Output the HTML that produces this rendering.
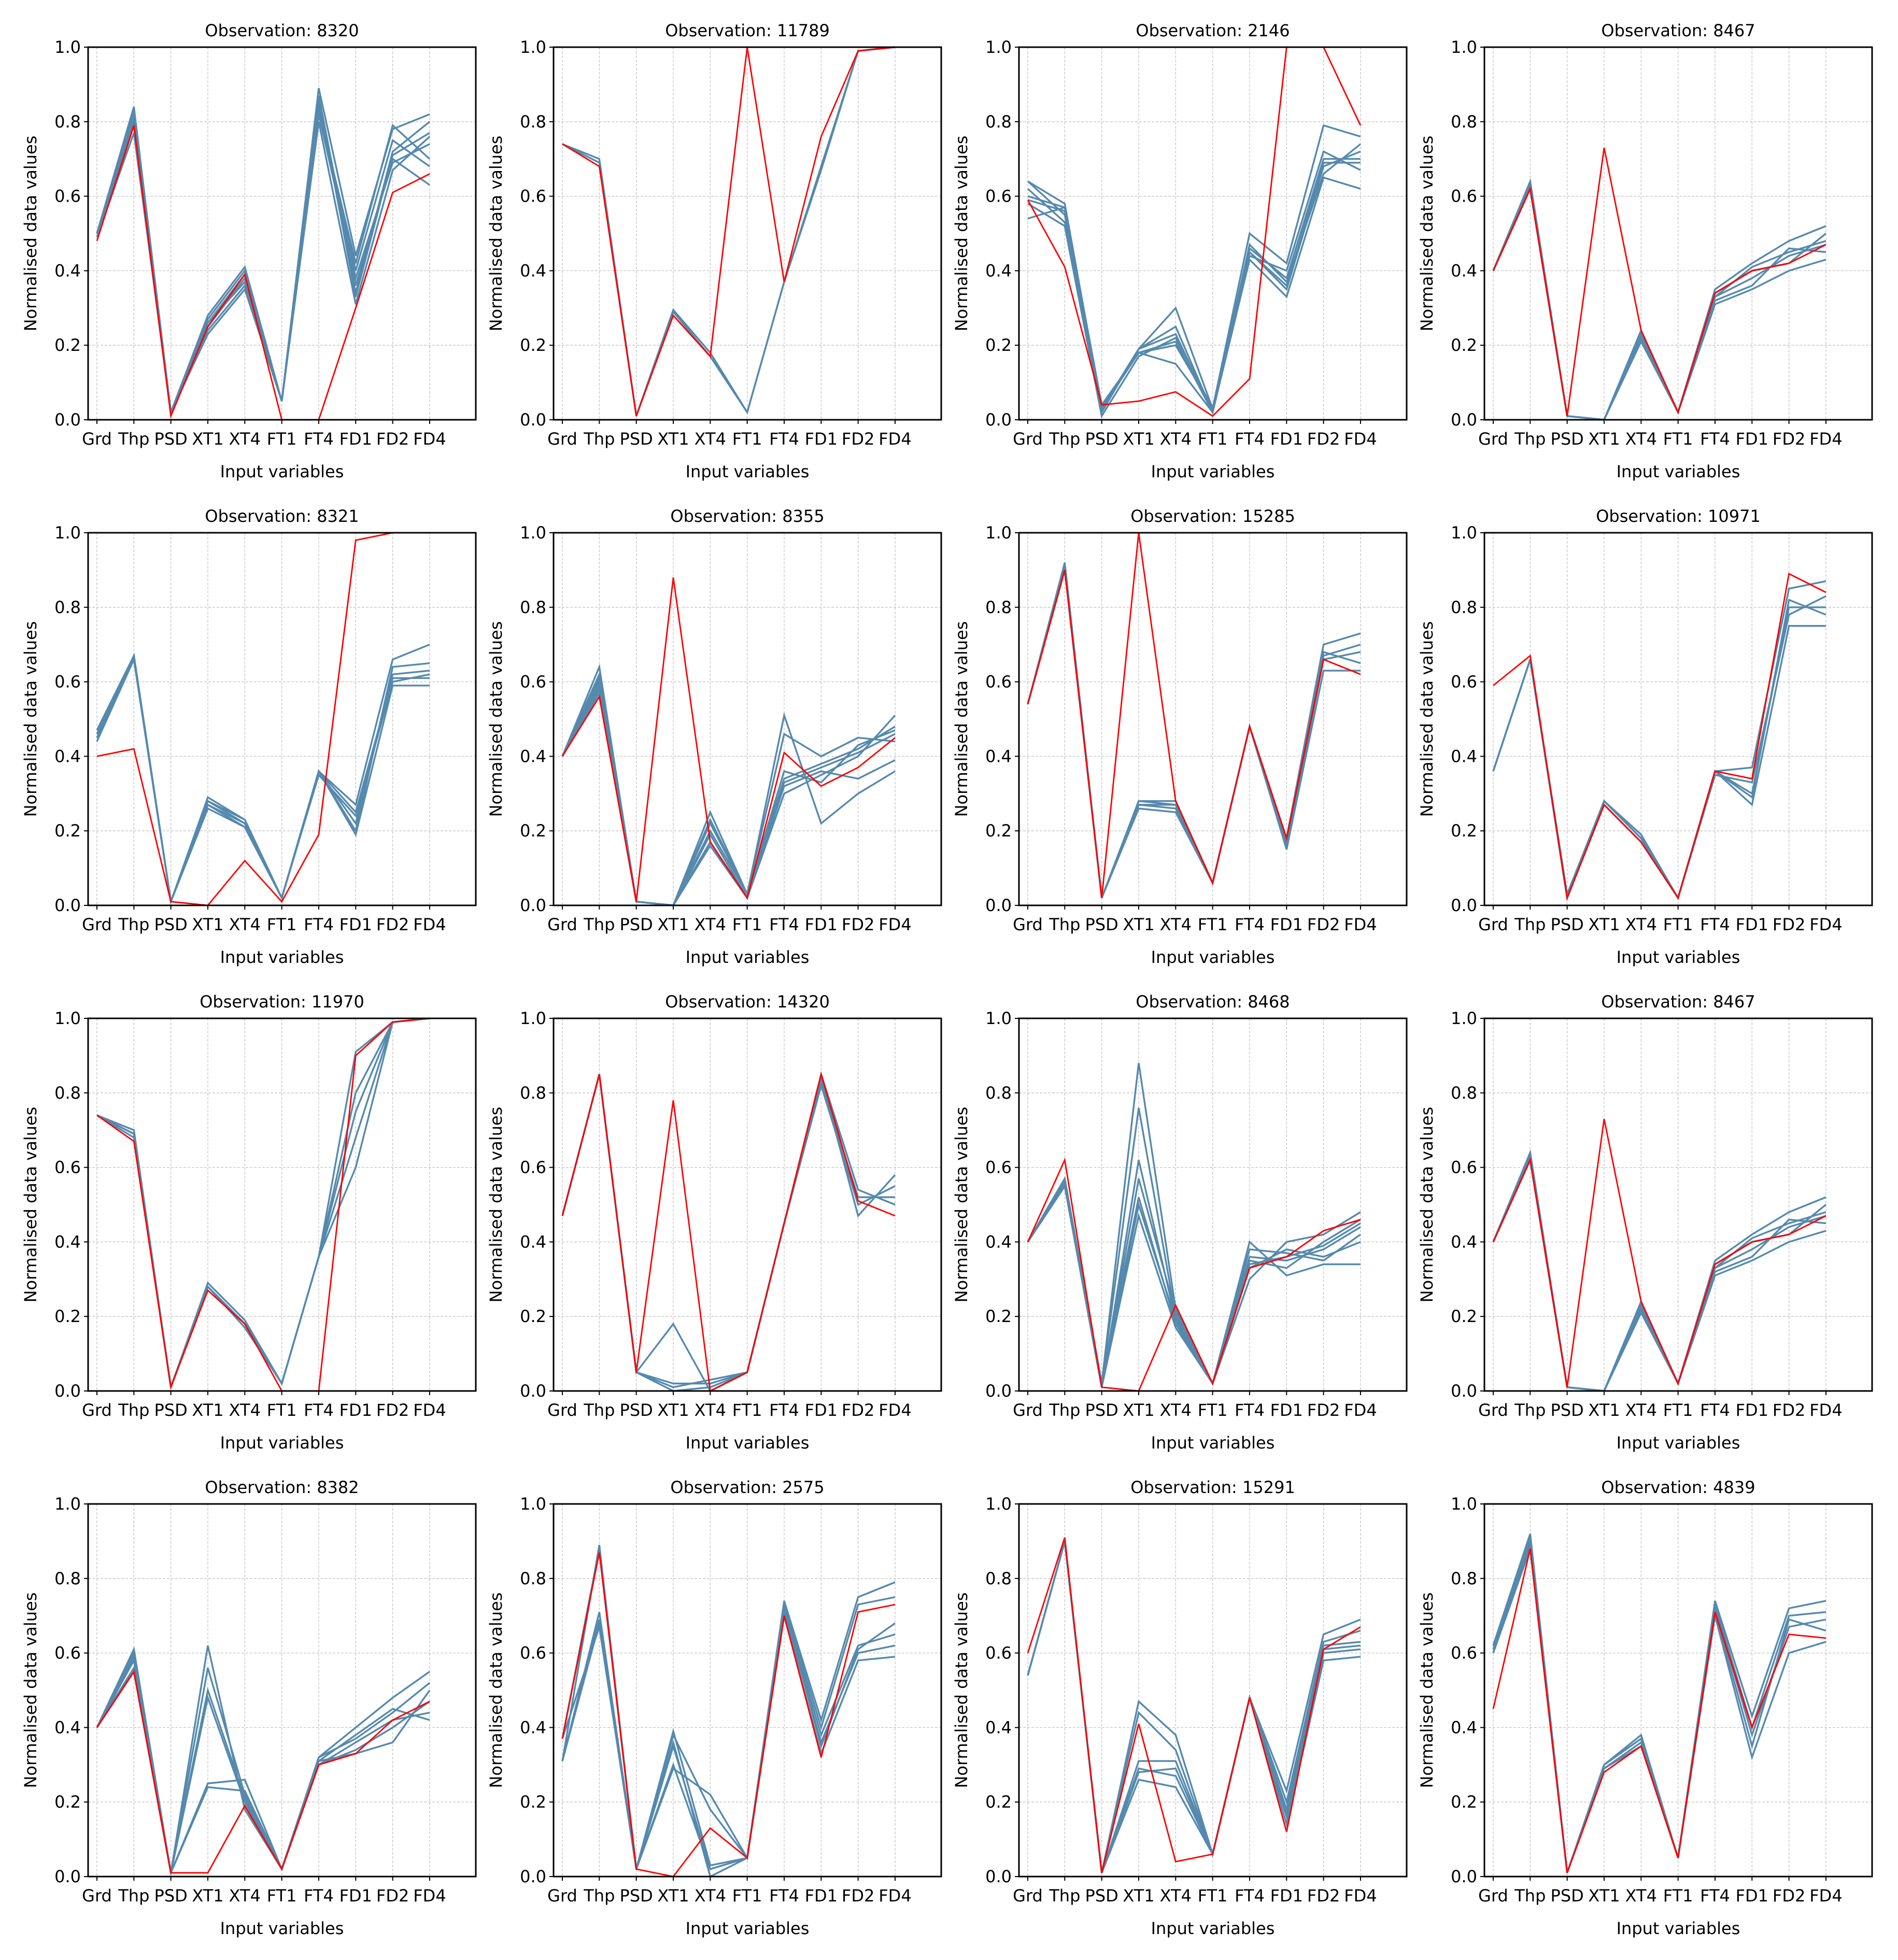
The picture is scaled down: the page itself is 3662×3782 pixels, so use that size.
<!DOCTYPE html>
<html><head><meta charset="utf-8"><style>
html,body{margin:0;padding:0;background:#fff}
svg{display:block}
text{font-family:"DejaVu Sans","Liberation Sans",sans-serif;fill:#000}
</style></head><body>
<svg id="fig" xmlns="http://www.w3.org/2000/svg" width="3662" height="3782" viewBox="0 0 3662 3782"></svg>
<script>
const categories=["Grd","Thp","PSD","XT1","XT4","FT1","FT4","FD1","FD2","FD4"];
const yTicks=["0.0","0.2","0.4","0.6","0.8","1.0"];
const yTickValues=[0,0.2,0.4,0.6,0.8,1.0];
const observations=["8320","11789","2146","8467","8321","8355","15285","10971","11970","14320","8468","8467","8382","2575","15291","4839"];
const redSeries=[
[0.48,0.79,0.01,0.25,0.39,0.0,0.0,0.30,0.61,0.66],
[0.74,0.68,0.01,0.28,0.17,1.0,0.37,0.76,0.99,1.0],
[0.59,0.41,0.04,0.05,0.075,0.01,0.11,1.0,1.0,0.79],
[0.40,0.62,0.01,0.73,0.24,0.02,0.34,0.40,0.42,0.47],
[0.40,0.42,0.01,0.0,0.12,0.01,0.19,0.98,1.0,1.0],
[0.40,0.56,0.01,0.88,0.17,0.02,0.41,0.32,0.37,0.45],
[0.54,0.90,0.02,1.0,0.28,0.06,0.48,0.18,0.66,0.62],
[0.59,0.67,0.02,0.27,0.17,0.02,0.36,0.34,0.89,0.84],
[0.74,0.67,0.01,0.27,0.18,0.0,0.0,0.90,0.99,1.0],
[0.47,0.85,0.05,0.78,0.0,0.05,0.45,0.85,0.51,0.47],
[0.40,0.62,0.01,0.0,0.23,0.02,0.33,0.36,0.43,0.46],
[0.40,0.62,0.01,0.73,0.24,0.02,0.34,0.40,0.42,0.47],
[0.40,0.55,0.01,0.01,0.19,0.02,0.30,0.33,0.42,0.47],
[0.37,0.87,0.02,0.0,0.13,0.05,0.70,0.32,0.71,0.73],
[0.60,0.91,0.01,0.41,0.04,0.06,0.48,0.12,0.61,0.67],
[0.45,0.88,0.01,0.28,0.35,0.05,0.71,0.40,0.65,0.64]
];
const blueSeries=[
[[0.50,0.84,0.02,0.28,0.41,0.05,0.89,0.44,0.78,0.82],[0.50,0.80,0.02,0.25,0.38,0.05,0.84,0.40,0.75,0.68],[0.49,0.77,0.02,0.23,0.35,0.05,0.80,0.31,0.67,0.76],[0.50,0.83,0.02,0.27,0.40,0.05,0.87,0.36,0.70,0.63],[0.50,0.81,0.02,0.26,0.39,0.05,0.85,0.34,0.72,0.80],[0.50,0.82,0.02,0.26,0.37,0.05,0.83,0.42,0.79,0.70],[0.50,0.79,0.02,0.24,0.36,0.05,0.82,0.38,0.69,0.74],[0.50,0.83,0.02,0.25,0.38,0.05,0.86,0.33,0.71,0.77]],
[[0.74,0.70,0.01,0.295,0.18,0.02,0.37,0.68,0.99,1.0],[0.74,0.69,0.01,0.29,0.17,0.02,0.37,0.67,0.99,1.0]],
[[0.64,0.58,0.03,0.19,0.30,0.03,0.50,0.42,0.79,0.76],[0.54,0.57,0.04,0.18,0.15,0.02,0.43,0.33,0.65,0.62],[0.58,0.52,0.01,0.17,0.22,0.03,0.46,0.38,0.70,0.70],[0.64,0.55,0.03,0.19,0.25,0.02,0.45,0.35,0.68,0.72],[0.59,0.56,0.03,0.18,0.20,0.03,0.44,0.40,0.72,0.67],[0.62,0.53,0.02,0.19,0.23,0.02,0.47,0.37,0.66,0.74],[0.60,0.57,0.03,0.18,0.21,0.02,0.45,0.36,0.69,0.69]],
[[0.40,0.64,0.01,0.0,0.24,0.02,0.35,0.42,0.48,0.52],[0.40,0.62,0.01,0.0,0.21,0.02,0.31,0.35,0.40,0.43],[0.40,0.63,0.01,0.0,0.23,0.02,0.33,0.38,0.44,0.47],[0.40,0.63,0.01,0.0,0.22,0.02,0.34,0.40,0.42,0.50],[0.40,0.62,0.01,0.0,0.23,0.02,0.32,0.36,0.46,0.45],[0.40,0.63,0.01,0.0,0.22,0.02,0.33,0.41,0.45,0.48]],
[[0.47,0.67,0.01,0.29,0.23,0.02,0.36,0.27,0.66,0.70],[0.44,0.66,0.01,0.26,0.21,0.02,0.36,0.19,0.59,0.59],[0.46,0.67,0.01,0.27,0.22,0.02,0.36,0.22,0.62,0.63],[0.45,0.66,0.01,0.28,0.22,0.02,0.35,0.24,0.60,0.62],[0.46,0.67,0.01,0.27,0.21,0.02,0.36,0.20,0.64,0.65],[0.45,0.67,0.01,0.28,0.23,0.02,0.36,0.25,0.61,0.61]],
[[0.40,0.64,0.01,0.0,0.25,0.03,0.51,0.22,0.30,0.36],[0.40,0.60,0.01,0.0,0.20,0.03,0.34,0.38,0.42,0.48],[0.40,0.58,0.01,0.0,0.17,0.02,0.30,0.35,0.40,0.51],[0.40,0.62,0.01,0.0,0.23,0.03,0.46,0.40,0.45,0.44],[0.40,0.57,0.01,0.0,0.16,0.02,0.32,0.36,0.34,0.39],[0.40,0.61,0.01,0.0,0.22,0.03,0.36,0.33,0.43,0.47],[0.40,0.59,0.01,0.0,0.19,0.02,0.33,0.37,0.41,0.46]],
[[0.54,0.92,0.02,0.28,0.28,0.06,0.48,0.18,0.70,0.73],[0.54,0.90,0.02,0.26,0.25,0.06,0.48,0.15,0.63,0.63],[0.54,0.91,0.02,0.27,0.27,0.06,0.48,0.16,0.66,0.68],[0.54,0.91,0.02,0.27,0.26,0.06,0.48,0.17,0.68,0.65],[0.54,0.91,0.02,0.28,0.27,0.06,0.48,0.16,0.67,0.70]],
[[0.36,0.66,0.03,0.28,0.19,0.02,0.36,0.37,0.85,0.87],[0.36,0.66,0.02,0.27,0.17,0.02,0.36,0.27,0.75,0.75],[0.36,0.66,0.02,0.28,0.18,0.02,0.36,0.30,0.80,0.80],[0.36,0.66,0.02,0.28,0.18,0.02,0.35,0.33,0.78,0.83],[0.36,0.66,0.02,0.28,0.18,0.02,0.36,0.29,0.82,0.78]],
[[0.74,0.70,0.01,0.29,0.19,0.02,0.36,0.91,0.99,1.0],[0.74,0.68,0.01,0.28,0.17,0.02,0.36,0.60,0.99,1.0],[0.74,0.69,0.01,0.28,0.18,0.02,0.36,0.75,0.99,1.0],[0.74,0.69,0.01,0.28,0.18,0.02,0.36,0.68,0.99,1.0],[0.74,0.69,0.01,0.28,0.18,0.02,0.36,0.80,0.99,1.0]],
[[0.47,0.85,0.05,0.18,0.0,0.05,0.45,0.84,0.47,0.58],[0.47,0.85,0.05,0.01,0.03,0.05,0.45,0.85,0.54,0.50],[0.47,0.85,0.05,0.0,0.01,0.05,0.45,0.82,0.50,0.55],[0.47,0.85,0.05,0.02,0.02,0.05,0.45,0.83,0.52,0.52]],
[[0.40,0.56,0.02,0.88,0.22,0.02,0.40,0.31,0.34,0.34],[0.40,0.55,0.01,0.47,0.17,0.02,0.30,0.40,0.42,0.48],[0.40,0.57,0.02,0.76,0.20,0.02,0.36,0.35,0.38,0.44],[0.40,0.55,0.01,0.62,0.19,0.02,0.33,0.38,0.36,0.40],[0.40,0.56,0.02,0.52,0.18,0.02,0.35,0.33,0.40,0.46],[0.40,0.55,0.01,0.57,0.21,0.02,0.38,0.37,0.35,0.42],[0.40,0.56,0.01,0.50,0.19,0.02,0.34,0.36,0.39,0.45]],
[[0.40,0.64,0.01,0.0,0.24,0.02,0.35,0.42,0.48,0.52],[0.40,0.62,0.01,0.0,0.21,0.02,0.31,0.35,0.40,0.43],[0.40,0.63,0.01,0.0,0.23,0.02,0.33,0.38,0.44,0.47],[0.40,0.63,0.01,0.0,0.22,0.02,0.34,0.40,0.42,0.50],[0.40,0.62,0.01,0.0,0.23,0.02,0.32,0.36,0.46,0.45],[0.40,0.63,0.01,0.0,0.22,0.02,0.33,0.41,0.45,0.48]],
[[0.40,0.61,0.01,0.62,0.18,0.02,0.32,0.40,0.48,0.55],[0.40,0.60,0.01,0.25,0.26,0.02,0.31,0.33,0.36,0.50],[0.40,0.56,0.01,0.48,0.20,0.02,0.30,0.36,0.42,0.44],[0.40,0.58,0.01,0.56,0.22,0.02,0.31,0.38,0.45,0.42],[0.40,0.55,0.01,0.24,0.23,0.02,0.30,0.34,0.40,0.47],[0.40,0.59,0.01,0.50,0.21,0.02,0.32,0.37,0.44,0.52]],
[[0.31,0.89,0.02,0.39,0.03,0.05,0.74,0.42,0.75,0.79],[0.37,0.67,0.02,0.29,0.22,0.05,0.70,0.33,0.58,0.59],[0.31,0.71,0.02,0.36,0.0,0.05,0.72,0.38,0.62,0.65],[0.31,0.69,0.02,0.35,0.02,0.05,0.71,0.36,0.60,0.62],[0.37,0.88,0.02,0.38,0.18,0.05,0.73,0.40,0.73,0.75],[0.31,0.68,0.02,0.30,0.02,0.05,0.72,0.35,0.61,0.68]],
[[0.54,0.90,0.01,0.47,0.38,0.06,0.48,0.23,0.65,0.69],[0.54,0.90,0.01,0.26,0.24,0.06,0.48,0.14,0.58,0.59],[0.54,0.90,0.01,0.31,0.31,0.06,0.48,0.18,0.62,0.63],[0.54,0.90,0.01,0.29,0.27,0.06,0.48,0.16,0.60,0.61],[0.54,0.90,0.01,0.44,0.34,0.06,0.48,0.20,0.63,0.66],[0.54,0.90,0.01,0.28,0.29,0.06,0.48,0.17,0.61,0.62]],
[[0.62,0.92,0.01,0.30,0.38,0.05,0.74,0.43,0.72,0.74],[0.60,0.88,0.01,0.29,0.35,0.05,0.70,0.32,0.60,0.63],[0.61,0.90,0.01,0.29,0.36,0.05,0.72,0.38,0.67,0.69],[0.60,0.89,0.01,0.30,0.37,0.05,0.71,0.35,0.69,0.66],[0.61,0.91,0.01,0.30,0.37,0.05,0.73,0.40,0.70,0.71]]
];
const NS="http://www.w3.org/2000/svg";
const svg=document.getElementById("fig");
const W=748,H=719,colStep=898,rowStep=937,L0=170,T0=91;
function mk(tag,attrs,parent){const e=document.createElementNS(NS,tag);for(const k in attrs)e.setAttribute(k,attrs[k]);parent.appendChild(e);return e;}
observations.forEach((obs,p)=>{
  const col=p%4,row=Math.floor(p/4);
  const L=L0+col*colStep,T=T0+row*rowStep;
  const xs=i=>L+17+i*71.33;
  const ys=v=>T+H-v*H;
  const g=mk("g",{},svg);
  
  
  yTickValues.forEach((v,i)=>{
    if(v>0&&v<1){const gl=mk("line",{x1:L,x2:L+W,y1:ys(v),y2:ys(v),stroke:"#c4c4c4","stroke-width":1.3,"stroke-dasharray":"5,3"},g);
    }
    const tk=mk("line",{x1:L-8,x2:L,y1:ys(v),y2:ys(v),stroke:"#000","stroke-width":2},g);
    
    const t=mk("text",{x:L-14,y:ys(v)+11,"text-anchor":"end","font-size":32},g);t.textContent=yTicks[i];
    
  });
  categories.forEach((c,i)=>{
    const gl=mk("line",{x1:xs(i),x2:xs(i),y1:T,y2:T+H,stroke:"#c4c4c4","stroke-width":1.3,"stroke-dasharray":"5,3"},g);
    
    const tk=mk("line",{x1:xs(i),x2:xs(i),y1:T+H,y2:T+H+8,stroke:"#000","stroke-width":2},g);
    
    const t=mk("text",{x:xs(i),y:T+H+48,"text-anchor":"middle","font-size":32},g);t.textContent=c;
    
  });
  blueSeries[p].forEach(s=>{
    const pl=mk("polyline",{points:s.map((v,i)=>xs(i)+","+ys(v)).join(" "),fill:"none",stroke:"#5589ad","stroke-width":3.4},g);
    
  });
  const rl=mk("polyline",{points:redSeries[p].map((v,i)=>xs(i)+","+ys(v)).join(" "),fill:"none",stroke:"#ff0000","stroke-width":2.8},g);
  
  const fr=mk("rect",{x:L,y:T,width:W,height:H,fill:"none",stroke:"#000","stroke-width":3},g);
  
  const ti=mk("text",{x:L+W/2,y:T-21,"text-anchor":"middle","font-size":32},g);ti.textContent="Observation: "+obs;
  
  const xl=mk("text",{x:L+W/2,y:T+H+111,"text-anchor":"middle","font-size":32},g);xl.textContent="Input variables";
  
  const yl=mk("text",{x:0,y:0,"text-anchor":"middle","font-size":32,transform:"translate("+(L-100)+","+(T+H/2)+") rotate(-90)"},g);yl.textContent="Normalised data values";
  
});
</script>
</body></html>
